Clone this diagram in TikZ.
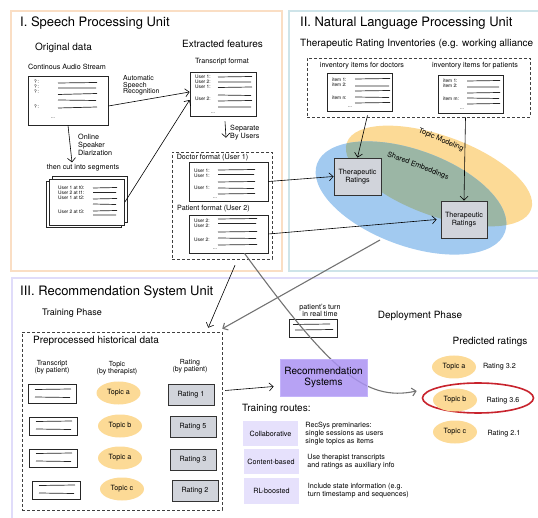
\documentclass[tikz,border=0pt]{standalone}
\usepackage{fontspec}
\setmainfont{TeX Gyre Heros}
\usetikzlibrary{positioning, arrows.meta, calc, shapes.geometric}

\definecolor{speechline}{RGB}{250,222,196}
\definecolor{nlpline}{RGB}{206,228,233}
\definecolor{recline}{RGB}{224,220,250}
\definecolor{topicfill}{RGB}{252,218,150}
\definecolor{embedfill}{RGB}{162,202,240}
\definecolor{overlapfill}{RGB}{155,182,165}
\definecolor{ratefill}{RGB}{209,212,219}
\definecolor{recsysfill}{RGB}{170,146,242}
\definecolor{recsysline}{RGB}{196,180,250}
\definecolor{routefill}{RGB}{230,225,252}
\definecolor{pickred}{RGB}{200,35,45}
\definecolor{longline}{RGB}{115,115,115}

\begin{document}
\begin{tikzpicture}[
    x=1pt, y=-1pt,                       % 画像のピクセル座標をそのまま使う
    >={Straight Barb[length=4pt,width=8pt]},
    font=\fontsize{7.2}{8}\selectfont,
    panel/.style={line width=2.5pt},
    unittitle/.style={font=\fontsize{13}{15}\selectfont, anchor=west, inner sep=0pt},
    heading/.style={font=\fontsize{10}{12}\selectfont, anchor=west, inner sep=0pt},
    caption/.style={font=\fontsize{7.2}{8}\selectfont, inner sep=0pt},
    doc/.style={draw=black!85, line width=0.8pt, inner sep=0pt},
    rows/.style={font=\fontsize{4.8}{4.6}\selectfont, anchor=north west, align=left, inner sep=0pt},
    ellipsis/.style={font=\fontsize{4.8}{5}\selectfont, inner sep=0pt},
    strokes/.style={line width=0.7pt, black!85},
    dashframe/.style={draw=black!75, dash pattern=on 3pt off 2pt, line width=0.5pt, inner sep=0pt},
    ratingbox/.style={draw=black!80, fill=ratefill, line width=0.9pt, inner sep=0pt, align=center},
    topic/.style={ellipse, fill=topicfill, inner sep=0pt, minimum width=44pt, minimum height=23pt},
    route/.style={fill=routefill, inner sep=0pt, minimum width=55pt, minimum height=25pt},
    desc/.style={caption, align=left},
    link/.style={->, line width=0.6pt},
    longlink/.style={->, line width=1.1pt, draw=longline}
]
    \clip (0,0) rectangle (538,518);

    % --- 1. 3つのユニット枠 ---
    \draw[panel, draw=speechline] (11,11) rectangle (282,271);
    \draw[panel, draw=nlpline] (289,11) rectangle (548,271);
    \draw[panel, draw=recline] (12,278) rectangle (548,528);

    % --- 2. Topic Modeling / Shared Embeddings の楕円 ---
    \fill[topicfill, rotate around={-20:(439,176)}] (439,176) ellipse [x radius=98, y radius=40];
    \fill[embedfill, rotate around={-20:(411,198)}] (411,198) ellipse [x radius=100, y radius=48];
    \begin{scope}
        \clip[rotate around={-20:(439,176)}] (439,176) ellipse [x radius=98, y radius=40];
        \fill[overlapfill, rotate around={-20:(411,198)}] (411,198) ellipse [x radius=100, y radius=48];
    \end{scope}
    \node[caption, rotate=-23] (topiclbl) at (441,140) {Topic Modeling};
    \node[caption, rotate=-21] (embedlbl) at (418,166) {Shared Embeddings};

    % --- 3. I. Speech Processing Unit ---
    \node[unittitle] (speechtitle) at (20,23) {I. Speech Processing Unit};
    \node[heading] (origtitle) at (35,48) {Original data};
    \node[caption] (audiocap) at (67,67) {Continous Audio Stream};
    \node[doc, minimum width=80pt, minimum height=49pt] (audio) at (68,100.5) {};
    \node[rows] (audiorows) at (34,80.2) {?\,:\\?\,:\\?\,:\\[11pt]?\,:};
    \node[ellipsis] (audiodots) at (53,118) {...};
    \draw[strokes] (58,83) -- (97,82.5) (58,88) -- (96,88) (58,94.5) -- (97,93.5)
        (58,100) -- (96,100.5) (58,108) -- (97,107);

    \node[caption, anchor=north west, align=left, font=\fontsize{6.9}{6.6}\selectfont] (asrlbl) at (123,75.5) {Automatic\\Speech\\Recognition};
    \node[caption, anchor=north west, align=left] (diarlbl) at (78,133.5) {Online\\Speaker\\Diarization};
    \node[caption] (cutcap) at (83,168) {then cut into segments};

    % 重なった書類（セグメント）
    \node[doc, fill=white, minimum width=75pt, minimum height=46pt] (segsback) at (84,204.5) {};
    \node[doc, fill=white, minimum width=75pt, minimum height=46pt] (segsmid) at (90,199.5) {};
    \node[doc, fill=white, minimum width=75pt, minimum height=46pt] (segs) at (87,202) {};
    \node[rows] (segsrows) at (58,186.2) {User 1 at t0:\\User 2 at t1:\\User 1 at t2:\\[10pt]User 2 at t3:};
    \draw[strokes] (93,188) -- (117,187.5) (93,192.5) -- (116,192.5) (93,199) -- (117,198.5)
        (93,204) -- (116,204.5) (93,211) -- (117,210.5) (93,215) -- (116,215);

    \node[heading] (feattitle) at (182,44) {Extracted features};
    \node[caption] (transcap) at (222,62) {Transcript format};
    \node[doc, minimum width=66pt, minimum height=44pt] (trans) at (223,94) {};
    \node[rows] (transrows) at (195,75.2) {User 1:\\User 2:\\User 1:\\[8.2pt]User 2:};
    \node[ellipsis] (transdots) at (213,113) {...};
    \draw[strokes] (218,77) -- (252,76.5) (218,82) -- (251,82) (218,87.5) -- (252,87)
        (218,95) -- (251,95.5) (218,101) -- (252,100.5) (218,107) -- (251,107);

    \node[caption, anchor=north west, align=left] (splitlbl) at (230,124.5) {Separate\\By Users};
    \node[dashframe, minimum width=100pt, minimum height=107pt] (splitbox) at (222,205.5) {};

    \node[caption] (doccap) at (212.5,157.5) {Doctor format (User 1)};
    \node[doc, minimum width=79pt, minimum height=39pt] (docfmt) at (228.5,181.5) {};
    \node[rows] (docrows) at (194,169.2) {User 1:\\User 1:\\[7pt]User 1:};
    \node[ellipsis] (docdots) at (215,198) {...};
    \draw[strokes] (218,170) -- (255,169.5) (218,174.5) -- (254,174.5) (218,182) -- (255,181.5)
        (218,188) -- (254,188.5) (218,194) -- (255,193.5);

    \node[caption] (patcap) at (213.5,209) {Patient format (User 2)};
    \node[doc, minimum width=79pt, minimum height=38pt] (patfmt) at (228.5,234) {};
    \node[rows] (patrows) at (194,218.9) {User 2:\\User 2:\\[9.3pt]User 2:};
    \node[ellipsis] (patdots) at (215,249.5) {...};
    \draw[strokes] (218,219) -- (257,218.5) (218,223.5) -- (256,223.5) (218,232) -- (257,231.5)
        (218,238) -- (256,238.5) (218,245) -- (257,244.5);

    % 矢印（音声 → 特徴量）
    \draw[link] ([yshift=-5.5pt]audio.east) -- ([yshift=2pt]trans.west);
    \draw[link] (segs.east) -- ([yshift=-6pt]trans.west);
    \draw[link] (audio.south) -- ([xshift=-11pt,yshift=2pt]cutcap.north);
    \draw[link] ([xshift=2pt,yshift=-5pt]trans.south) -- ([xshift=4pt,yshift=14pt]splitbox.north);

    % --- 4. II. Natural Language Processing Unit ---
    \node[unittitle] (nlptitle) at (300,23) {II. Natural Language Processing Unit};
    \node[heading] (invtitle) at (300,44) {Therapeutic Rating Inventories (e.g. working alliance};
    \node[dashframe, minimum width=223pt, minimum height=59pt] (invbox) at (418.5,87.5) {};
    \node[caption] (invdoccap) at (362,66) {inventory items for doctors};
    \node[caption] (invpatcap) at (475,66) {inventory items for patients};

    \node[doc, minimum width=65pt, minimum height=38pt] (invdoc) at (359.5,92) {};
    \node[rows] (invdocrows) at (332,78.3) {item 1:\\item 2:\\[8.9pt]item n:};
    \node[ellipsis] (invdocdots) at (350,107.5) {...};
    \draw[strokes] (355,79) -- (390,78.5) (355,86) -- (389,86) (355,91) -- (390,90.5)
        (355,97) -- (389,97.5) (355,103) -- (390,102.5);

    \node[doc, minimum width=65pt, minimum height=38pt] (invpat) at (470.5,94) {};
    \node[rows] (invpatrows) at (443,79.3) {item 1:\\item 2:\\[8.9pt]item m:};
    \node[ellipsis] (invpatdots) at (462,109.5) {...};
    \draw[strokes] (467,81) -- (500,80.5) (467,87) -- (499,87) (467,93) -- (500,92.5)
        (467,98) -- (499,98.5) (467,104) -- (500,103.5);

    \node[ratingbox, minimum width=47pt, minimum height=37pt] (tr1) at (357.5,176.5) {Therapeutic\\Ratings};
    \node[ratingbox, minimum width=46pt, minimum height=37pt] (tr2) at (464,219.5) {Therapeutic\\Ratings};
    \coordinate (embout) at (380,240);

    \draw[link] ([xshift=8pt,yshift=-4pt]invdoc.south) -- (tr1.north);
    \draw[link] ([xshift=-5pt,yshift=-4pt]invpat.south) -- (tr2.north);
    \draw[link] (docfmt.east) -- (tr1.west);
    \draw[link] (patfmt.east) -- ([xshift=-4pt]tr2.west);

    % --- 5. III. Recommendation System Unit ---
    \node[unittitle] (rectitle) at (20,292) {III. Recommendation System Unit};
    \node[heading, font=\fontsize{9}{11}\selectfont] (traintitle) at (42,313) {Training Phase};
    \node[dashframe, minimum width=200pt, minimum height=178pt] (prep) at (122,421) {};
    \node[heading] (preptitle) at (33,341) {Preprocessed historical data};

    \node[caption, align=center, font=\fontsize{7}{7}\selectfont] (coltrans) at (52,367) {Transcript\\(by patient)};
    \node[caption, align=center, font=\fontsize{7}{7}\selectfont] (coltopic) at (117,368) {Topic\\(by therapist)};
    \node[caption, align=center, font=\fontsize{7}{7}\selectfont] (colrate) at (190,366) {Rating\\(by patient)};

    \node[doc, minimum width=48pt, minimum height=19pt] (rowdoca) at (52,393.5) {};
    \node[doc, minimum width=48pt, minimum height=18pt] (rowdocb) at (53,426) {};
    \node[doc, minimum width=48pt, minimum height=18pt] (rowdocc) at (53,458) {};
    \node[doc, minimum width=48pt, minimum height=18pt] (rowdocd) at (56,490) {};
    \draw[strokes] (35,389.5) -- (71,389) (35,397) -- (70,397.5)
        (36,421.5) -- (72,421) (36,429) -- (71,429.5)
        (36,453.5) -- (72,453) (36,461) -- (71,461.5)
        (39,485.5) -- (75,485) (39,493) -- (74,493.5);

    \node[topic] (rowtopa) at (118.5,393) {Topic a};
    \node[topic] (rowtopb) at (120,426) {Topic b};
    \node[topic] (rowtopc) at (120,458) {Topic a};
    \node[topic] (rowtopd) at (122,489) {Topic c};

    \node[ratingbox, minimum width=46pt, minimum height=21pt] (rate1) at (191,394.5) {Rating 1};
    \node[ratingbox, minimum width=46pt, minimum height=21pt] (rate5) at (193,427) {Rating 5};
    \node[ratingbox, minimum width=46pt, minimum height=21pt] (rate3) at (193,460) {Rating 3};
    \node[ratingbox, minimum width=46pt, minimum height=21pt] (rate2) at (195,491) {Rating 2};

    % 推薦システム本体
    \node[caption, align=center, font=\fontsize{7.2}{7.6}\selectfont] (turncap) at (320,310.5) {patient's turn\\in real time};
    \node[doc, minimum width=48pt, minimum height=18pt] (turndoc) at (313,328) {};
    \draw[strokes] (293,324.5) -- (330,324) (295,330) -- (333,329.5);

    \node[heading, anchor=center] (deptitle) at (420,316) {Deployment Phase};
    \node[heading, anchor=center] (predtitle) at (490,342) {Predicted ratings};
    \node[topic] (depa) at (454,367) {Topic a};
    \node[caption] (depra) at (499.5,367) {Rating 3.2};
    \node[draw=pickred, line width=1.6pt, ellipse, minimum width=111pt, minimum height=30pt] (pick) at (478,398) {};
    \node[topic] (depb) at (455,400) {Topic b};
    \node[caption] (deprb) at (503,401) {Rating 3.6};
    \node[topic] (depc) at (455,432) {Topic c};
    \node[caption] (deprc) at (504,434) {Rating 2.1};

    % 患者の書類から予測へ向かう曲線（推薦ボックスの下を通る）
    \draw[longlink] ([xshift=16pt]patfmt.south) .. controls (330,370) and (365,402) .. ([xshift=-5pt,yshift=7pt]pick.west);
    \node[draw=recsysline, fill=recsysfill, fill opacity=0.85, text opacity=1, line width=0.8pt,
        minimum width=87pt, minimum height=37pt, align=center, font=\fontsize{10}{10.5}\selectfont] (recsys) at (323.5,377.5) {Recommendation\\Systems};

    \node[heading] (routetitle) at (242,409) {Training routes:};
    \node[route] (coll) at (270.5,433.5) {Collaborative};
    \node[route] (cont) at (271,461.5) {Content-based};
    \node[route, minimum height=26pt] (rlb) at (271.5,491) {RL-boosted};
    \node[desc, right=7pt of coll] (colldesc) {RecSys preminaries:\\single sessions as users\\single topics as items};
    \node[desc, right=8.5pt of cont] (contdesc) {Use therapist transcripts\\and ratings as auxiliary info};
    \node[desc, right=8.5pt of rlb] (rlbdesc) {Include state information (e.g.\\turn timestamp and sequences)};

    % ユニット間の矢印
    \draw[link] ([xshift=13pt,yshift=-6pt]splitbox.south) -- ([xshift=-14pt,yshift=4pt]prep.north east);
    \draw[longlink] (embout) -- ([yshift=3pt]prep.north east);
    \draw[link] ($(prep.east |- rate1.east)+(3,-4)$) -- ([xshift=-6pt,yshift=-9pt]recsys.west);

\end{tikzpicture}
\end{document}
